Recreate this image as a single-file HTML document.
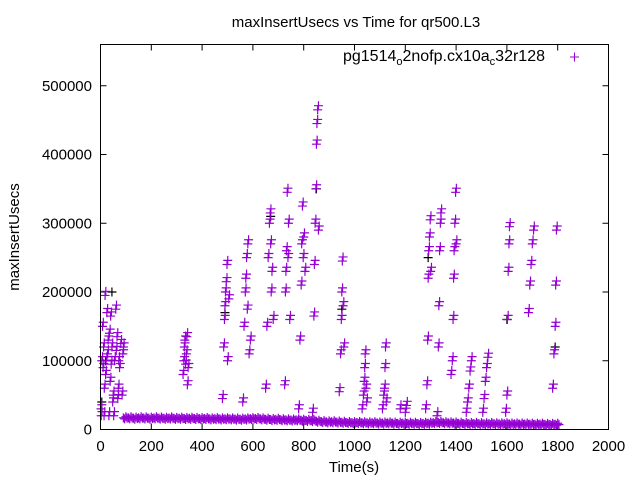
<!DOCTYPE html>
<html><head><meta charset="utf-8"><style>
body{margin:0;background:#fff}
svg text{font-family:"Liberation Sans",sans-serif;font-size:15px;fill:#000}
</style></head><body>
<svg id="c" width="640" height="480" viewBox="0 0 640 480">
<rect width="640" height="480" fill="#fff"/>
<text x="356" y="27" text-anchor="middle">maxInsertUsecs vs Time for qr500.L3</text>
<text x="354" y="472" text-anchor="middle">Time(s)</text>
<text transform="translate(19,237) rotate(-90)" text-anchor="middle">maxInsertUsecs</text>
<g id="axes"></g>
<g id="pts"></g>
<rect x="100.5" y="44.5" width="508" height="385" fill="none" stroke="#000"/>
<g>
<text x="545" y="61" text-anchor="end" style="font-size:16px">pg1514<tspan font-size="11" dy="4">o</tspan><tspan dy="-4">2nofp.cx10a</tspan><tspan font-size="11" dy="4">c</tspan><tspan dy="-4">32r128</tspan></text>
<path d="M570 57h9M574.5 52.5v9" stroke="#9400d3" stroke-width="1"/>
</g>
</svg>
<script>
const xTicks=[0,200,400,600,800,1000,1200,1400,1600,1800,2000];
const yTicks=[0,100000,200000,300000,400000,500000];
const baseTimes=[90,110,130,150,170,190,210,230,250,270,290,310,330,350,370,390,410,430,450,470,490,510,530,550,570,590,610,630,650,670,690,710,730,750,770,790,810,830,850,870,890,910,930,950,970,990,1010,1030,1050,1070,1090,1110,1130,1150,1170,1190,1210,1230,1250,1270,1290,1310,1330,1350,1370,1390,1410,1430,1450,1470,1490,1510,1530,1550,1570,1590,1610,1630,1650,1670,1690,1710,1730,1750,1770,1790];
const baseValues=[17000,17000,16500,17000,16800,16500,17000,16600,16400,16800,16200,16500,16000,16300,16000,15800,16000,15500,15800,15400,15600,15500,15200,15000,15400,15800,16000,15500,15000,14500,14800,14200,14000,13800,14000,13500,13200,13000,12000,11500,11000,11200,10800,10500,10200,10000,10200,9800,9600,9800,9500,9400,9600,9200,9000,9200,9000,9100,8800,9000,9200,10000,10200,9800,9600,9400,9000,8800,8600,8800,8500,8400,8600,8300,8200,8400,8000,8200,7900,8000,7800,7600,7800,7500,7400,7600];
const burstTimes=[2,5,8,10,12,15,18,20,22,25,28,30,35,38,40,42,45,48,50,55,60,62,65,70,72,75,80,85,88,90,3,14,33,52,68,
325,328,330,332,335,338,340,342,345,
480,485,488,490,492,495,498,500,505,
560,565,570,572,575,578,580,585,590,
650,655,660,665,668,670,672,675,680,
725,728,730,732,735,738,740,745,
780,785,790,792,795,798,800,805,
835,840,842,845,848,850,852,855,858,
940,945,948,950,952,955,958,
1030,1035,1038,1040,1042,1045,1048,
1110,1115,1118,1120,1122,1125,
1180,1200,1205,
1280,1285,1288,1290,1292,1295,1298,1300,
1325,1330,1332,1335,1338,1340,
1380,1385,1388,1390,1392,1395,1398,1400,
1440,1445,1450,1455,1460,
1505,1510,1515,1520,1525,
1595,1600,1602,1605,1608,1610,
1685,1690,1695,1700,1705,
1780,1785,1790,1792,1795];
const burstValues=[30000,100000,150000,90000,120000,60000,195000,80000,100000,170000,110000,130000,140000,70000,165000,95000,120000,40000,50000,100000,175000,115000,135000,60000,100000,90000,125000,50000,110000,120000,20000,20000,20000,20000,45000,
80000,100000,120000,130000,95000,110000,135000,65000,90000,
45000,120000,160000,180000,200000,215000,240000,100000,190000,
40000,150000,200000,220000,250000,175000,270000,110000,130000,
60000,150000,250000,300000,315000,270000,200000,230000,160000,
65000,200000,230000,260000,345000,250000,300000,160000,
30000,130000,210000,270000,325000,250000,280000,230000,
25000,165000,240000,300000,350000,415000,445000,465000,290000,
55000,110000,160000,200000,245000,180000,120000,
30000,50000,70000,90000,110000,60000,40000,
30000,50000,60000,90000,120000,40000,
30000,25000,35000,
30000,65000,130000,220000,260000,280000,305000,230000,
20000,120000,180000,260000,300000,315000,
80000,100000,160000,220000,260000,300000,345000,270000,
25000,40000,60000,85000,100000,
25000,45000,70000,90000,105000,
25000,50000,160000,230000,270000,295000,
170000,210000,240000,270000,290000,
60000,110000,150000,210000,290000];
const blackTimes=[5,20,45,490,670,850,950,1290,1600,1790];
const blackValues=[40000,100000,200000,170000,310000,350000,175000,250000,160000,120000];
const X0=100.5,X1=608.5,Y0=429.5,Y1=44.5;
const xs=v=>X0+(v/2000)*(X1-X0);
const ys=v=>Y0-(v/560000)*(Y0-Y1);
const ns="http://www.w3.org/2000/svg";
const ax=document.getElementById('axes'),pg=document.getElementById('pts');
function mk(t,a,p){const e=document.createElementNS(ns,t);for(const k in a)e.setAttribute(k,a[k]);p.appendChild(e);return e;}
xTicks.forEach(t=>{const x=xs(t);
 const l=mk('path',{d:`M${x} ${Y0}v-6M${x} ${Y1}v6`,stroke:'#000'},ax);
 
 
 const tx=mk('text',{x:x,y:451,'text-anchor':'middle'},ax);tx.textContent=t;
 
 });
yTicks.forEach(t=>{const y=ys(t);
 const l=mk('path',{d:`M${X0} ${y}h6M${X1} ${y}h-6`,stroke:'#000'},ax);
 
 
 const tx=mk('text',{x:92,y:y+5,'text-anchor':'end'},ax);tx.textContent=t;
 
 });
function plus(t,v,c){const x=xs(t),y=ys(v);
 const p=mk('path',{d:`M${x-4.5} ${y}h9M${x} ${y-4.5}v9`,stroke:c,'stroke-width':1.2},pg);
 
 }
blackTimes.forEach((t,i)=>plus(t,blackValues[i],'#000'));
baseTimes.forEach((t,i)=>{plus(t,baseValues[i],'#9400d3');plus(t+5,baseValues[i]-1500,'#9400d3');plus(t+10,baseValues[i]+1500,'#9400d3');plus(t+15,baseValues[i]-500,'#9400d3');});
burstTimes.forEach((t,i)=>{plus(t,burstValues[i],'#9400d3');plus(t+3,burstValues[i]+6000,'#9400d3');});
</script>
</body></html>
